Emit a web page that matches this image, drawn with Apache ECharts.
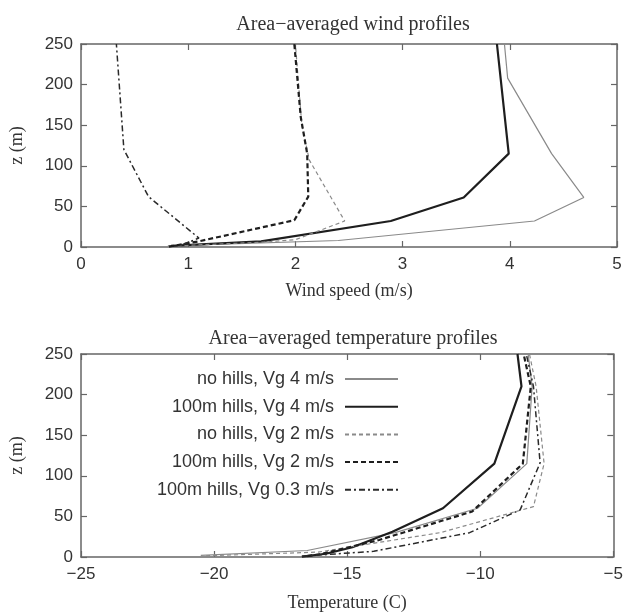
<!DOCTYPE html>
<html>
<head>
<meta charset="utf-8">
<script src="https://cdn.jsdelivr.net/npm/echarts@6/dist/echarts.min.js"></script>
<style>
html,body{margin:0;padding:0;background:#fff;}
#c{width:626px;height:615px;}
</style>
</head>
<body>
<div id="c"></div>
<script>
// ---- data: [value, z (m)] ----
var seriesNames = ['no hills, Vg 4 m/s', '100m hills, Vg 4 m/s', 'no hills, Vg 2 m/s', '100m hills, Vg 2 m/s', '100m hills, Vg 0.3 m/s'];

// wind speed (m/s) vs height
var windNoHills4 = [[0.81,1.5],[2.4,8],[4.23,32],[4.69,61],[4.39,115],[3.98,208],[3.95,250]];
var windHills4   = [[0.84,1.5],[1.68,7],[2.89,32],[3.57,61],[3.99,115],[3.88,250]];
var windNoHills2 = [[0.9,1.5],[1.7,6],[2.0,9],[2.46,32],[2.13,107],[2.06,150],[2.0,250]];
var windHills2   = [[0.82,0.5],[1.1,7],[1.99,33],[2.12,62],[2.11,115],[2.05,160],[1.99,250]];
var windHills03  = [[0.95,3],[1.1,11],[0.63,62],[0.40,120],[0.33,250]];

// temperature (C) vs height
var tempNoHills4 = [[-20.5,2],[-16.5,8],[-13.2,30],[-10.1,60],[-8.25,115],[-8.05,210],[-8.2,250]];
var tempHills4   = [[-16.7,0.5],[-15.8,4],[-14.8,12],[-13.3,31],[-11.4,60],[-9.47,115],[-8.45,210],[-8.6,250]];
var tempNoHills2 = [[-20.3,1.5],[-16.1,6],[-11.5,30],[-8.0,62],[-7.6,115],[-7.9,210],[-8.15,250]];
var tempHills2   = [[-16.5,1],[-16.0,3.5],[-13.8,21],[-10.3,56],[-8.4,115],[-8.1,210],[-8.37,250]];
var tempHills03  = [[-16.7,1],[-14.0,7],[-10.4,30],[-8.5,58],[-7.75,116],[-8.0,210],[-8.27,250]];

var windTicks = {min:0, max:5, interval:1};
var tempTicks = {min:-25, max:-5, interval:5};
var zTicks = {min:0, max:250, interval:50};

// ---- styles ----
var styles = [
  {color:'#8a8a8a', width:1.2, type:'solid'},
  {color:'#1e1e1e', width:2.2, type:'solid'},
  {color:'#8a8a8a', width:1.2, type:[4,3]},
  {color:'#1e1e1e', width:2.2, type:[5,3]},
  {color:'#2a2a2a', width:1.5, type:[6,3,2,3]}
];
var windData = [windNoHills4, windHills4, windNoHills2, windHills2, windHills03];
var tempData = [tempNoHills4, tempHills4, tempNoHills2, tempHills2, tempHills03];

var sans = '"Liberation Sans", Arial, sans-serif';
var serif = '"Liberation Serif", "Times New Roman", serif';
var axisColor = '#666';
var textColor = '#333';

function minusFmt(v){ return String(v).replace('-', '\u2212'); }

function xAxisDef(ticks, gridIndex, pos, name, gap){
  var main = pos === 'bottom';
  return {
    type:'value', gridIndex:gridIndex, position:pos,
    min:ticks.min, max:ticks.max, interval:ticks.interval,
    name: main ? name : '', nameLocation:'middle', nameGap:gap,
    nameTextStyle:{fontFamily:serif, fontSize:18, color:textColor},
    axisLine:{show:true, onZero:false, lineStyle:{color:axisColor, width:1.5}},
    axisTick:{show:true, inside:true, length:6, lineStyle:{color:axisColor, width:1.2}},
    axisLabel:{show:main, fontFamily:sans, fontSize:17, color:textColor, margin:9, formatter:minusFmt},
    splitLine:{show:false}
  };
}
function yAxisDef(gridIndex, pos){
  var main = pos === 'left';
  return {
    type:'value', gridIndex:gridIndex, position:pos,
    min:zTicks.min, max:zTicks.max, interval:zTicks.interval,
    name: main ? 'z (m)' : '', nameLocation:'middle', nameGap:55, nameRotate:90,
    nameTextStyle:{fontFamily:serif, fontSize:18, color:textColor},
    axisLine:{show:true, onZero:false, lineStyle:{color:axisColor, width:1.5}},
    axisTick:{show:true, inside:true, length:6, lineStyle:{color:axisColor, width:1.2}},
    axisLabel:{show:main, fontFamily:sans, fontSize:17, color:textColor, margin:8},
    splitLine:{show:false}
  };
}

var series = [];
function addSeries(dataSets, axisIdx){
  for (var i = 0; i < dataSets.length; i++){
    series.push({
      type:'line', name:seriesNames[i], xAxisIndex:axisIdx, yAxisIndex:axisIdx,
      data:dataSets[i], symbol:'none', showSymbol:false, smooth:false, animation:false,
      lineStyle:{color:styles[i].color, width:styles[i].width, type:styles[i].type},
      itemStyle:{color:styles[i].color}, z:2 + i
    });
  }
}
addSeries(windData, 0);
addSeries(tempData, 2);

var option = {
  backgroundColor:'#fff',
  animation:false,
  title:[
    {text:'Area\u2212averaged wind profiles', left:348, top:10, textAlign:'center',
     textStyle:{fontFamily:serif, fontSize:20, fontWeight:'normal', color:textColor}},
    {text:'Area\u2212averaged temperature profiles', left:348, top:324, textAlign:'center',
     textStyle:{fontFamily:serif, fontSize:20, fontWeight:'normal', color:textColor}}
  ],
  legend:{
    data:seriesNames, orient:'vertical', align:'right', right:222, top:365,
    itemWidth:53, itemHeight:14, itemGap:9.7, selectedMode:false,
    itemStyle:{opacity:0},
    textStyle:{fontFamily:sans, fontSize:18, color:textColor, padding:[0,6,0,0]}
  },
  grid:[
    {left:80, right:9, top:44, height:203},
    {left:80, right:9, top:354, height:203}
  ],
  xAxis:[
    xAxisDef(windTicks, 0, 'bottom', 'Wind speed (m/s)', 35),
    xAxisDef(windTicks, 0, 'top', '', 0),
    xAxisDef(tempTicks, 1, 'bottom', 'Temperature (C)', 37),
    xAxisDef(tempTicks, 1, 'top', '', 0)
  ],
  yAxis:[
    yAxisDef(0, 'left'), yAxisDef(0, 'right'),
    yAxisDef(1, 'left'), yAxisDef(1, 'right')
  ],
  series:series
};
var chart = echarts.init(document.getElementById('c'), null, {renderer:'canvas'});
chart.setOption(option);
</script>
</body>
</html>
